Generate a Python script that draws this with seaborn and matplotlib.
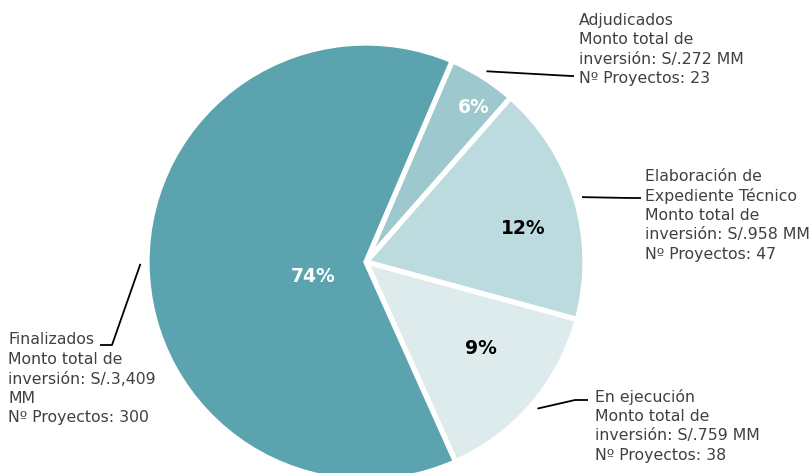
import numpy as np
import matplotlib
matplotlib.use("Agg")
import matplotlib.pyplot as plt
import seaborn as sns

# ======================================
# DATA
# ======================================

estados = ["Adjudicados", "Elaboración de\nExpediente Técnico", "En ejecución", "Finalizados"]
montos = [272, 958, 759, 3409]          # S/. MM
proyectos = [23, 47, 38, 300]
colores = ["#9DC8CE", "#BCDBDF", "#DDEBED", "#5BA3AE"]
texto_pct = ["white", "black", "black", "white"]
montos_txt = ["S/.272 MM", "S/.958 MM", "S/.759 MM", "S/.3,409\nMM"]

# ======================================
# FIGURE
# ======================================

sns.set_theme(style="white")
plt.rcParams["font.family"] = ["DejaVu Sans"]

W, H = 812, 473
CX, CY, R = 366, 262, 219

fig = plt.figure(figsize=(W / 100, H / 100), dpi=100)
ax = fig.add_axes([(CX - R) / W, (H - CY - R) / H, 2 * R / W, 2 * R / H])


def px(x, y):
    return (x - CX) / R, (CY - y) / R


wedges, _ = ax.pie(
    montos,
    colors=colores,
    startangle=66.8,
    counterclock=False,
    radius=1,
    wedgeprops=dict(edgecolor="white", linewidth=3.8),
)
ax.set_xlim(-1, 1)
ax.set_ylim(-1, 1)
ax.axis("off")

# percent labels (share of projects)
total_proy = sum(proyectos)
pct_pos = [(474, 107), (523, 229), (481, 349), (313, 276)]
for i, p in enumerate(proyectos):
    x, y = px(*pct_pos[i])
    ax.text(x, y, f"{round(100 * p / total_proy)}%", ha="center", va="center",
            fontsize=13.5, fontweight="bold", color=texto_pct[i])

# outside labels with leader lines
txt_pos = [(579, 20), (645, 176), (595, 397), (8, 340)]
elbows = [((571, 76), (574, 76)), ((630, 198), (641, 198)),
          ((575, 400), (588, 400)), ((112, 345), (100, 345))]
LINE = 19.5
for i, w in enumerate(wedges):
    ang = np.deg2rad((w.theta1 + w.theta2) / 2)
    sx, sy = 1.03 * np.cos(ang), 1.03 * np.sin(ang)
    (ex, ey), (fx, fy) = elbows[i]
    e = px(ex, ey)
    f = px(fx, fy)
    ax.plot([sx, e[0], f[0]], [sy, e[1], f[1]], color="black", lw=1.3,
            clip_on=False, solid_capstyle="butt")
    lines = estados[i].split("\n") + ["Monto total de",
                                      "inversión: " + montos_txt[i].split("\n")[0]]
    lines += montos_txt[i].split("\n")[1:]
    lines += [f"Nº Proyectos: {proyectos[i]}"]
    tx, ty = txt_pos[i]
    for k, ln in enumerate(lines):
        x, y = px(tx, ty + k * LINE)
        ax.text(x, y, ln, ha="left", va="center", fontsize=11.3,
                color="#404040", clip_on=False)

fig.savefig("out.png", dpi=100)
